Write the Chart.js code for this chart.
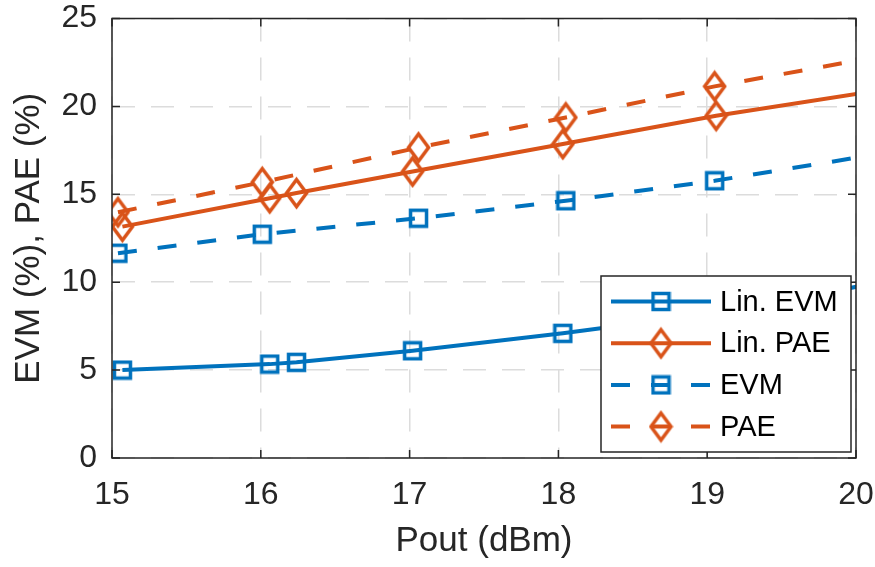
<!DOCTYPE html>
<html>
<head>
<meta charset="utf-8">
<script src="https://cdn.jsdelivr.net/npm/chart.js@4.4.0/dist/chart.umd.min.js"></script>
<style>
  html, body { margin: 0; padding: 0; background: #fff; }
  #wrap { width: 875px; height: 567px; }
</style>
</head>
<body>
<div id="wrap"><canvas id="evmChart"></canvas></div>
<script>
// Output power sweep (dBm); last point sits just past the axis limit
const linPout = [15.07, 16.06, 16.24, 17.02, 18.03, 19.06, 20.08];
const linEvm = [5.0, 5.34, 5.44, 6.1, 7.09, 8.25, 9.86];
const linPae = [13.16, 14.78, 15.07, 16.3, 17.86, 19.47, 20.81];

const pout = [15.04, 16.01, 17.06, 18.05, 19.05, 20.08];
const evm = [11.65, 12.73, 13.64, 14.63, 15.77, 17.19];
const pae = [13.98, 15.69, 17.66, 19.37, 21.14, 22.72];

const xTicks = [15, 16, 17, 18, 19, 20];
const yTicks = [0, 5, 10, 15, 20, 25];

const BLUE = "#0072BD";
const ORANGE = "#D95319";
const INK = "#262626";
const FONT = "'Liberation Sans', Arial, Helvetica, sans-serif";

// hollow markers, drawn once and reused by the points and the legend
function squareMarker(color) {
  const c = document.createElement("canvas");
  c.width = 21;
  c.height = 21;
  const g = c.getContext("2d");
  g.strokeStyle = color;
  g.lineWidth = 3.5;
  g.strokeRect(2.5, 2.5, 16, 16);
  return c;
}

function diamondMarker(color) {
  const c = document.createElement("canvas");
  c.width = 25;
  c.height = 34;
  const g = c.getContext("2d");
  g.strokeStyle = color;
  g.lineWidth = 3.5;
  g.beginPath();
  g.moveTo(12.5, 3.5);
  g.lineTo(22.5, 17);
  g.lineTo(12.5, 30.5);
  g.lineTo(2.5, 17);
  g.closePath();
  g.stroke();
  return c;
}

const sqBlue = squareMarker(BLUE);
const diaOrange = diamondMarker(ORANGE);

const toPoints = (xs, ys) => xs.map((x, i) => ({ x: x, y: ys[i] }));

const series = (label, xs, ys, color, marker, dash) => ({
  label: label,
  data: toPoints(xs, ys),
  borderColor: color,
  borderWidth: 4,
  borderDash: dash,
  pointStyle: marker,
  pointRadius: 9,
  pointHoverRadius: 9,
  backgroundColor: "transparent",
  tension: 0,
  clip: 0,
});

// no extra room for overhanging tick labels
const noOverhang = (s) => {
  s.paddingLeft = 0;
  s.paddingRight = 0;
  s.paddingTop = 0;
  s.paddingBottom = 0;
};

// axes box with inward tick marks
const boxPlugin = {
  id: "box",
  afterDatasetsDraw(chart) {
    const { ctx, chartArea: a, scales } = chart;
    ctx.save();
    ctx.strokeStyle = INK;
    ctx.lineWidth = 1.5;
    ctx.strokeRect(a.left, a.top, a.right - a.left, a.bottom - a.top);
    ctx.beginPath();
    xTicks.forEach((v) => {
      const px = scales.x.getPixelForValue(v);
      ctx.moveTo(px, a.bottom);
      ctx.lineTo(px, a.bottom - 8);
      ctx.moveTo(px, a.top);
      ctx.lineTo(px, a.top + 8);
    });
    yTicks.forEach((v) => {
      const py = scales.y.getPixelForValue(v);
      ctx.moveTo(a.left, py);
      ctx.lineTo(a.left + 8, py);
      ctx.moveTo(a.right, py);
      ctx.lineTo(a.right - 8, py);
    });
    ctx.stroke();
    ctx.restore();
  },
};

// legend box in the lower right corner of the plot
const legendPlugin = {
  id: "boxLegend",
  afterDraw(chart) {
    const { ctx } = chart;
    const left = 601, top = 276, right = 851, bottom = 452;
    ctx.save();
    ctx.fillStyle = "#fff";
    ctx.fillRect(left, top, right - left, bottom - top);
    ctx.strokeStyle = INK;
    ctx.lineWidth = 1.5;
    ctx.strokeRect(left, top, right - left, bottom - top);
    chart.data.datasets.forEach((ds, i) => {
      const y = 301.5 + i * 41.7;
      ctx.strokeStyle = ds.borderColor;
      ctx.lineWidth = ds.borderWidth;
      ctx.setLineDash(ds.borderDash || []);
      ctx.beginPath();
      ctx.moveTo(611, y);
      ctx.lineTo(711, y);
      ctx.stroke();
      ctx.setLineDash([]);
      const m = ds.pointStyle;
      ctx.drawImage(m, 661 - m.width / 2, y - m.height / 2);
      ctx.fillStyle = "#000";
      ctx.font = "29px " + FONT;
      ctx.textBaseline = "middle";
      ctx.fillText(ds.label, 720, y + 1);
    });
    ctx.restore();
  },
};

new Chart(document.getElementById("evmChart"), {
  type: "line",
  data: {
    datasets: [
      series("Lin. EVM", linPout, linEvm, BLUE, sqBlue, []),
      series("Lin. PAE", linPout, linPae, ORANGE, diaOrange, []),
      series("EVM", pout, evm, BLUE, sqBlue, [19, 21]),
      series("PAE", pout, pae, ORANGE, diaOrange, [19, 21]),
    ],
  },
  options: {
    responsive: true,
    maintainAspectRatio: false,
    animation: false,
    events: [],
    layout: {
      autoPadding: false,
      padding: { top: 18.5, right: 19, left: 0, bottom: 0 },
    },
    plugins: {
      legend: { display: false },
      tooltip: { enabled: false },
    },
    scales: {
      x: {
        type: "linear",
        min: 15,
        max: 20,
        afterBuildTicks: (s) => {
          s.ticks = xTicks.map((v) => ({ value: v }));
        },
        afterFit: (s) => {
          s.height = 109;
          noOverhang(s);
        },
        grid: { color: "#dcdcdc", lineWidth: 1.5, drawTicks: false },
        border: { display: false, dash: [23, 16] },
        ticks: {
          color: INK,
          font: { family: FONT, size: 32 },
          padding: 18,
          maxRotation: 0,
          autoSkip: false,
        },
        title: {
          display: true,
          text: "Pout (dBm)",
          color: INK,
          font: { family: FONT, size: 35 },
          padding: { top: 0, bottom: 5 },
        },
      },
      y: {
        type: "linear",
        min: 0,
        max: 25,
        afterBuildTicks: (s) => {
          s.ticks = yTicks.map((v) => ({ value: v }));
        },
        afterFit: (s) => {
          s.width = 112;
          noOverhang(s);
        },
        grid: { color: "#dcdcdc", lineWidth: 1.5, drawTicks: false },
        border: { display: false, dash: [23, 16] },
        ticks: {
          color: INK,
          font: { family: FONT, size: 32 },
          padding: 15,
        },
        title: {
          display: true,
          text: "EVM (%), PAE (%)",
          color: INK,
          font: { family: FONT, size: 35 },
          padding: { top: 8, bottom: 0 },
        },
      },
    },
  },
  plugins: [boxPlugin, legendPlugin],
});
</script>
</body>
</html>
